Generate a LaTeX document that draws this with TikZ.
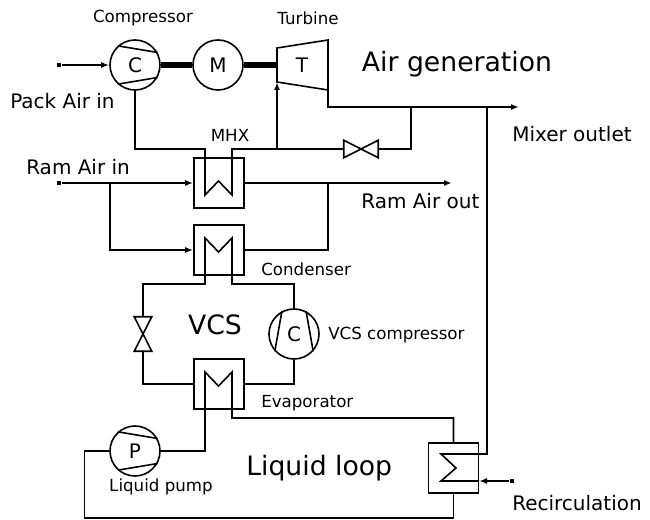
\documentclass[tikz,border=0pt]{standalone}
\usepackage{fontspec}
\setmainfont{DejaVu Sans}
\usetikzlibrary{arrows.meta}
\tikzset{
    pipe/.style={
        line width=1.2pt,
        black
    },
    pipearrow/.style={
        line width=1.2pt,
        black,
        -{Latex[length=6pt, width=4.5pt]}
    },
    % shaft between the machines
    shaft/.style={
        line width=4pt,
        black
    },
    machine/.style={
        circle,
        draw,
        line width=1.2pt,
        minimum size=37.5pt,
        inner sep=0pt,
        font=\fontsize{15}{15}\selectfont
    },
    hexbox/.style={
        rectangle,
        draw,
        line width=1.2pt,
        minimum size=37.5pt,
        inner sep=0pt
    },
    valvebox/.style={
        inner sep=0pt,
        minimum width=#1
    },
    portin/.style={
        rectangle,
        fill=black,
        inner sep=0pt,
        minimum size=3.5pt
    },
    smalllabel/.style={font=\fontsize{12.5}{12.5}\selectfont, inner sep=0pt},
    midlabel/.style={font=\fontsize{15}{15}\selectfont, inner sep=0pt},
    biglabel/.style={font=\fontsize{20}{20}\selectfont, inner sep=0pt}
}

\begin{document}
\begin{tikzpicture}[x=0.75pt,y=-0.75pt]
   \useasboundingbox (0,0) rectangle (650,520);

   \node[machine] (comp) at (135,65) {C};
   \node[machine] (motor) at (218,65) {M};
   \node[machine] (vcscomp) at (294,334) {C};
   \node[machine] (pump) at (135,451) {P};
   \node[hexbox] (mhx) at (219,183) {};
   \node[hexbox] (cond) at (219,250) {};
   \node[hexbox] (evap) at (219,384) {};
   \node[hexbox] (recu) at (453.5,468) {};
   \node[valvebox=25.5pt, minimum height=12.75pt] (bypass) at (361,149) {};
   \node[valvebox=12.75pt, minimum height=25.5pt] (vcsvalve) at (143,334) {};
   \node[portin] (packin) at (59,65) {};
   \node[portin] (ramin) at (59,183) {};
   \node[portin] (recirc) at (512,481) {};

   \coordinate (tb1) at (277,48);
   \coordinate (tb2) at (328,40);
   \coordinate (tb3) at (328,90);
   \coordinate (tb4) at (277,82);
   \coordinate (tbshaft) at (277,65);
   \node at (302,65) (tbname) {\fontsize{15}{15}\selectfont T};
   \draw[pipe] (tb1) -- (tb2) -- (tb3) -- (tb4) -- cycle;

   % blades
   \draw[pipe] (comp.132) -- (comp.29);
   \draw[pipe] (comp.-132) -- (comp.-29);
   \draw[pipe] (pump.132) -- (pump.29);
   \draw[pipe] (pump.-132) -- (pump.-29);
   \draw[pipe] (vcscomp.118) -- (vcscomp.222);
   \draw[pipe] (vcscomp.62) -- (vcscomp.-42);

   % valves
   \draw[pipe] (bypass.north west) -- (bypass.south east) -- (bypass.north east) -- (bypass.south west) -- cycle;
   \draw[pipe] (vcsvalve.north west) -- (vcsvalve.north east) -- (vcsvalve.south west) -- (vcsvalve.south east) -- cycle;

   \draw[shaft] (comp) -- (motor);
   \draw[shaft] (motor) -- (tbshaft);

   \draw[pipearrow] (packin) -- (comp);

   % hot air through the MHX
   \coordinate (mhxa) at (205,149);
   \coordinate (mhxb) at (205,195);
   \coordinate (mhxc) at (218.5,181);
   \coordinate (mhxd) at (232,195);
   \coordinate (mhxe) at (232,149);
   \coordinate (tbin) at (277,149);
   \coordinate (bypr) at (411,149);
   \coordinate (tbout) at (328,107);
   \coordinate (bypt) at (411,107);
   \coordinate (mixer) at (519,107);
   \coordinate (mixd) at (487,107);
   \draw[pipe] (comp) |- (mhxa) -- (mhxb) -- (mhxc) -- (mhxd) -- (mhxe) -- (tbin);
   \draw[pipe] (tbin) -- (bypass);
   \draw[pipe] (bypass) -- (bypr) -- (bypt);
   \draw[pipearrow] (tbin) -- (tb4);
   \draw[pipearrow] (tb3) -- (tbout) -- (mixer);

   % ram air
   \coordinate (ramd) at (110,183);
   \coordinate (ramout) at (452,183);
   \coordinate (ramr) at (328,183);
   \draw[pipearrow] (ramin) -- (mhx);
   \draw[pipearrow] (ramd) |- (cond);
   \draw[pipearrow] (mhx) -- (ramout);
   \draw[pipe] (ramr) |- (cond);

   % condenser
   \coordinate (cona) at (143,284);
   \coordinate (conb) at (205,284);
   \coordinate (conc) at (205,238);
   \coordinate (cond2) at (218.5,252);
   \coordinate (cone) at (232,238);
   \coordinate (conf) at (232,284);
   \coordinate (cong) at (294,284);
   \draw[pipe] (vcsvalve) -- (cona) -- (conb) -- (conc) -- (cond2) -- (cone) -- (conf) -- (cong) -- (vcscomp);

   % evaporator
   \draw[pipe] (vcsvalve) |- (evap);
   \draw[pipe] (vcscomp) |- (evap);
   \coordinate (eva) at (205,451);
   \coordinate (evb) at (205,372);
   \coordinate (evc) at (218.5,386);
   \coordinate (evd) at (232,372);
   \coordinate (eve) at (232,418);
   \coordinate (evf) at (453.5,418);
   \draw[pipe] (pump) -- (eva) -- (evb) -- (evc) -- (evd) -- (eve) -- (evf) -- (recu);

   % liquid loop
   \coordinate (lpa) at (453.5,518);
   \coordinate (lpb) at (84.5,518);
   \coordinate (lpc) at (84.5,451);
   \draw[pipe] (recu) -- (lpa) -- (lpb) -- (lpc) -- (pump);

   % recirculation
   \coordinate (rca) at (487,454);
   \coordinate (rcb) at (441,454);
   \coordinate (rcc) at (456,468);
   \coordinate (rcd) at (441,481);
   \coordinate (rce) at (479,481);
   \draw[pipe] (mixd) -- (rca) -- (rcb) -- (rcc) -- (rcd) -- (rce);
   \draw[pipearrow] (recirc) -- (rce);

   \node[smalllabel] (lcomp) at (143,18) {Compressor};
   \node[smalllabel] (lturb) at (308,18) {Turbine};
   \node[biglabel] (lair) at (457,64) {Air generation};
   \node[midlabel, anchor=west] (lpack) at (10,101) {Pack Air in};
   \node[smalllabel] (lmhx) at (230,135) {MHX};
   \node[midlabel, anchor=west] (lramin) at (26,167) {Ram Air in};
   \node[midlabel, anchor=west] (lramout) at (361,201) {Ram Air out};
   \node[midlabel, anchor=west] (lmix) at (512,134) {Mixer outlet};
   \node[smalllabel, anchor=west] (lcond) at (261,269) {Condenser};
   \node[biglabel] (lvcs) at (215,325) {VCS};
   \node[smalllabel, anchor=west] (lvcomp) at (328,335) {VCS compressor};
   \node[smalllabel, anchor=west] (levap) at (261,403) {Evaporator};
   \node[biglabel, anchor=west] (lloop) at (246,468) {Liquid loop};
   \node[smalllabel] (lpump) at (161,487) {Liquid pump};
   \node[midlabel, anchor=west] (lrec) at (512,503) {Recirculation};
\end{tikzpicture}
\end{document}
